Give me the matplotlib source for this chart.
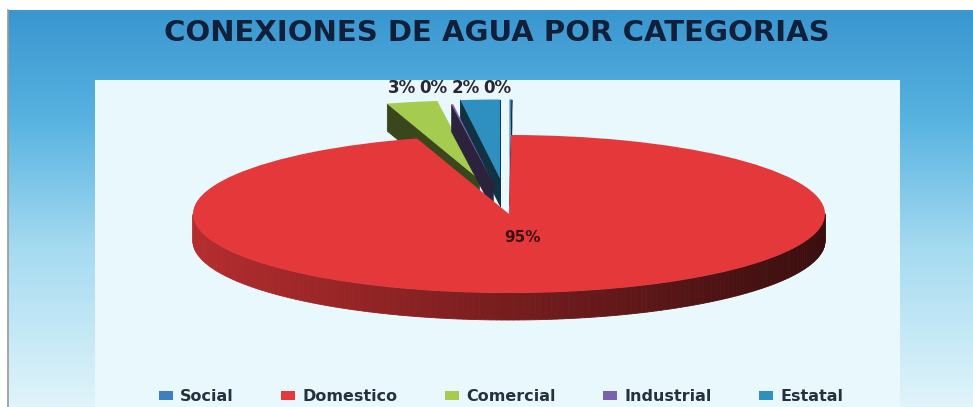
import numpy as np
import matplotlib.pyplot as plt
from matplotlib.patches import Rectangle
from matplotlib.collections import PolyCollection
from matplotlib.colors import to_rgb

# data
categories = ['Social', 'Domestico', 'Comercial', 'Industrial', 'Estatal']
values = [0.1, 95.2, 2.6, 0.1, 2.0]
colors = ['#3d7fbf', '#e5383a', '#a5cb4f', '#7a62aa', '#2e90c0']
explode = [0.45, 0.0, 0.45, 0.4, 0.45]
title = 'CONEXIONES DE AGUA POR CATEGORIAS'

W, H = 973, 407
fig = plt.figure(figsize=(W / 100, H / 100), dpi=100)
fig.patch.set_facecolor('white')

# background panel (pixel coordinates)
bg = fig.add_axes([0, 0, 1, 1])
bg.set_xlim(0, W)
bg.set_ylim(H, 0)
bg.axis('off')

stops_y = [10, 120, 250, 407]
stops_c = [to_rgb(c) for c in ['#3a96cf', '#58b3e1', '#a6dbf1', '#e0f4fa']]
rows = np.linspace(10, H, 200)
grad = np.array([[np.interp(y, stops_y, [c[k] for c in stops_c]) for k in range(3)] for y in rows])
bg.imshow(grad[:, None, :], extent=(8, W, H, 10), aspect='auto', zorder=0)
bg.plot([8, 8], [10, H], color='#9a9a9a', lw=1.2, zorder=1)
bg.add_patch(Rectangle((95, 80), 805, H - 80, fc='#e9f8fc', ec='none', zorder=1))
bg.text(497, 33, title, ha='center', va='center', fontsize=21,
        fontweight='bold', color='#10203a', family='DejaVu Sans')

# pie axes: unit radius -> ellipse of a x b pixels centred at (cx, cy)
cx, cy, a, b, depth = 509, 214, 316, 79, 27
ax = fig.add_axes([0, 0, 1, 1], zorder=2)
wedges, texts, autotexts = ax.pie(values, colors=colors, explode=explode,
                                  startangle=90, counterclock=False,
                                  autopct='%1.0f%%', pctdistance=0.3,
                                  wedgeprops=dict(linewidth=0))
ax.set_aspect('auto')
ax.set_xlim(-cx / a, (W - cx) / a)
ax.set_ylim(-(H - cy) / b, cy / b)
ax.axis('off')
ax.patch.set_alpha(0)

d = depth / b

# back slices first, big slice last
order = sorted(range(len(wedges)), key=lambda i: -wedges[i].center[1])
z = 1
for i in order:
    w = wedges[i]
    x0, y0 = w.center
    r = w.r
    t1, t2 = np.radians(w.theta1), np.radians(w.theta2)
    base = np.array(to_rgb(colors[i]))
    polys, cols = [], []
    # radial faces
    for t, vis in ((t1, np.cos(t1) > 0), (t2, np.cos(t2) < 0)):
        if vis:
            px, py = x0 + r * np.cos(t), y0 + r * np.sin(t)
            polys.append([(x0, y0), (px, py), (px, py - d), (x0, y0 - d)])
            cols.append(base * 0.35)
    # outer side, front half only
    ts = np.linspace(t1, t2, max(4, int(np.degrees(t2 - t1))))
    for ta, tb in zip(ts[:-1], ts[1:]):
        tm = 0.5 * (ta + tb)
        if np.sin(tm) < 0:
            pa = (x0 + r * np.cos(ta), y0 + r * np.sin(ta))
            pb = (x0 + r * np.cos(tb), y0 + r * np.sin(tb))
            polys.append([pa, pb, (pb[0], pb[1] - d), (pa[0], pa[1] - d)])
            cols.append(base * (0.52 - 0.27 * np.cos(tm)))
    if polys:
        ax.add_collection(PolyCollection(polys, facecolors=cols, edgecolors=cols,
                                         linewidths=0.6, zorder=z))
    w.set_zorder(z + 1)
    z += 2

# percentage labels: small slices laid out in one row above the pie
small = [i for i in range(len(values)) if values[i] < 10]
nat = []
for i in small:
    w = wedges[i]
    tm = np.radians(0.5 * (w.theta1 + w.theta2))
    nat.append((w.center[0] + 1.15 * np.cos(tm), w.center[1] + 1.15 * np.sin(tm), i))
nat.sort()
row_y = max(p[1] for p in nat)
step = 32 / a
for k, (x, y, i) in enumerate(nat):
    autotexts[i].set_position((nat[0][0] + k * step, row_y))
for i, t in enumerate(autotexts):
    t.set_fontsize(12 if values[i] < 10 else 11)
    t.set_fontweight('bold')
    t.set_family('DejaVu Sans')
    t.set_color('#2b2630' if values[i] < 10 else '#3a1212')
    t.set_zorder(50)

leg = fig.legend(wedges, categories, loc='center', bbox_to_anchor=(0.515, 0.025),
                 ncol=5, frameon=False, handlelength=0.85, handleheight=0.5,
                 handletextpad=0.45, columnspacing=3.0,
                 prop=dict(family='DejaVu Sans', weight='bold', size=11.5))
for t in leg.get_texts():
    t.set_color('#26313d')

fig.savefig('out.png', dpi=100)
